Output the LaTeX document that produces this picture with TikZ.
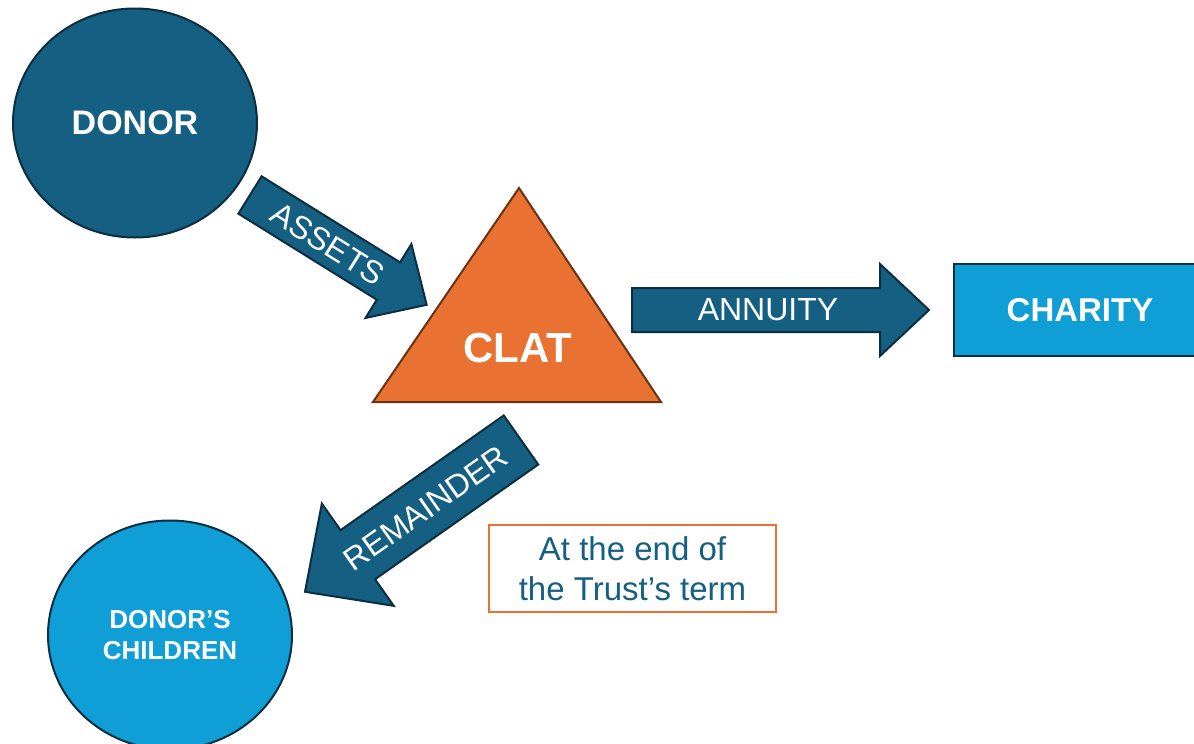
\documentclass[tikz,border=0pt]{standalone}
\usepackage{fontspec}
\setmainfont{Liberation Sans}
\usetikzlibrary{shapes.geometric}

\definecolor{tealfill}{HTML}{156082}
\definecolor{skyfill}{HTML}{0F9ED5}
\definecolor{clatfill}{HTML}{E97132}
\definecolor{edgecol}{HTML}{0C2E3E}
\definecolor{clatedge}{HTML}{6A3311}

\tikzset{
  % block arrow: length, shaft half-width, head half-width, head length
  pics/flowarrow/.style n args={4}{code={
    \draw[arrowbody] (0,-#2) -- ({#1-#4},-#2) -- ({#1-#4},-#3) -- (#1,0)
      -- ({#1-#4},#3) -- ({#1-#4},#2) -- (0,#2) -- cycle;
  }},
  arrowbody/.style={fill=tealfill, draw=edgecol, line width=1pt, line join=miter},
  arrowlabel/.style={text=white, inner sep=0pt, font=\fontsize{16}{19}\selectfont},
  party/.style={ellipse, draw=edgecol, line width=1pt, inner sep=0pt,
    minimum width=122pt, minimum height=114.5pt, text=white, align=center},
}

\begin{document}
\begin{tikzpicture}[x=0.5pt, y=-0.5pt]
\useasboundingbox (0,0) rectangle (1194,744);
\clip (0,0) rectangle (1194,744);
\fill[white] (0,0) rectangle (1194,744);

% parties
\node[party, fill=tealfill, font=\bfseries\fontsize{17}{20}\selectfont]
  (donor) at (135,123) {DONOR};
\node[party, fill=skyfill, font=\bfseries\fontsize{13}{15.5}\selectfont]
  (children) at (170,635) {DONOR’S\\CHILDREN};

% the trust
\coordinate (apex) at (519,188);
\coordinate (baseL) at (373,402);
\coordinate (baseR) at (661,402);
\draw[fill=clatfill, draw=clatedge, line width=1pt, line join=miter]
  (apex) -- (baseR) -- (baseL) -- cycle;
\node[text=white, inner sep=0pt, font=\bfseries\fontsize{21}{24}\selectfont]
  (clat) at (518,348) {CLAT};

% charity
\node[rectangle, fill=skyfill, draw=edgecol, line width=1pt,
  minimum width=127pt, minimum height=46pt, inner sep=0pt, anchor=west]
  (charitybox) at (953,310) {};
\node[text=white, inner sep=0pt, font=\bfseries\fontsize{16.5}{19}\selectfont]
  (charity) at (1080,310) {CHARITY};

% flows
\pic[rotate=-31.86] (assets) at (250,195) {flowarrow={208}{22}{43.5}{45}};
\node[arrowlabel, rotate=-32] (assetslbl) at (328,244) {ASSETS};

\pic (annuity) at (632,310) {flowarrow={297}{22}{46}{49}};
\node[arrowlabel] (annuitylbl) at (768,310) {ANNUITY};

\pic[rotate=215.1] (remainder) at (521,440) {flowarrow={264}{30}{62.5}{64.5}};
\node[arrowlabel, rotate=35.1] (remainderlbl) at (426,508) {REMAINDER};

% timing note
\node[draw=clatfill, line width=1pt, minimum width=143.5pt, minimum height=43.5pt,
  inner sep=0pt, align=center, text=tealfill,
  font=\fontsize{16.5}{20}\selectfont]
  (note) at (632.5,568.5) {At the end of\\the Trust’s term};
\end{tikzpicture}
\end{document}
